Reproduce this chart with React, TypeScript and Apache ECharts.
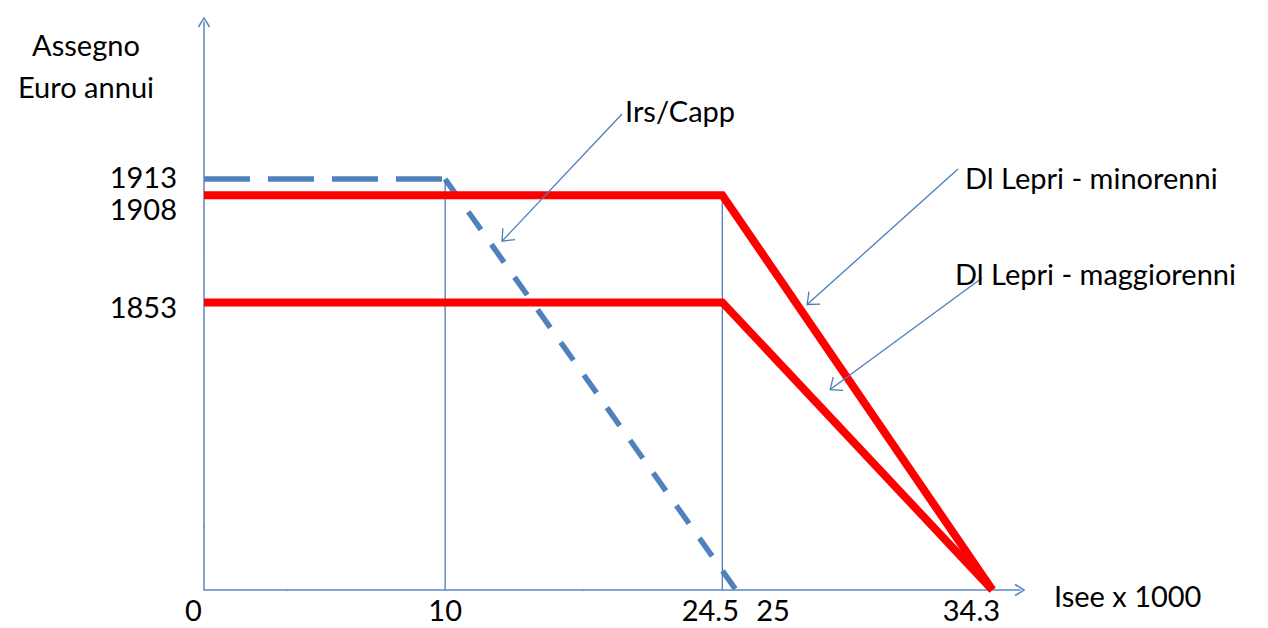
import React, { useEffect, useRef } from "react";
import * as echarts from "echarts";

// ---------------- data ----------------
const xTickValues = [0, 10, 24.5, 25, 34.3];
const yTickValues = [1853, 1908, 1913];

const irsCappFlat = [
  [0, 1913],
  [10, 1913],
];
const irsCappFall = [
  [10, 1913],
  [25, 0],
];
const lepriMinorenni = [
  [0, 1908],
  [24.5, 1908],
  [34.3, 0],
];
const lepriMaggiorenni = [
  [0, 1853],
  [24.5, 1853],
  [34.3, 0],
];
const guideAt10 = [
  [10, 0],
  [10, 1913],
];
const guideAt245 = [
  [24.5, 0],
  [24.5, 1908],
];

const seriesNames = ["Irs/Capp", "Dl Lepri - minorenni", "Dl Lepri - maggiorenni"];
const yAxisTitle = ["Assegno", "Euro annui"];
const xAxisTitle = "Isee x 1000";

// ---------------- layout / style ----------------
const FONT = "Lato, 'Open Sans', sans-serif";
const FONT_SIZE = 29;
const AXIS_BLUE = "#5a88c2";
const THIN_BLUE = "#4a7ebb";
const DASH_BLUE = "#4f81bd";
const RED = "#ff0000";

const X_EXTENT = [0, 35.3];
const Y_EXTENT = [0, 1962];
// schematic (non-proportional) drawing: compressed stretches of the axes
const X_BREAKS = [
  { start: 3, end: 4.252, gap: 0.001 },
  { start: 15, end: 19.446, gap: 0.001 },
];
const Y_BREAKS = [
  { start: 20, end: 1783.3, gap: 0.01 },
  { start: 1870, end: 1891.56, gap: 0.01 },
];

// hand-placed tick label nudges (px) as in the reference
const xLabelShift = [-10.5, 0, -12, 37, -21];
const yLabelShift = [4.5, 13, -3];

const CHEVRON = "path://M5,0 L10,8 L8.9,8.8 L5,2.2 L1.1,8.8 L0,8 Z";

const annotations = [
  { label: seriesNames[0], textAt: [625, 110], from: [622, 114], seg: irsCappFall, segIndex: 0, t: 0.151, nudge: [13, 0] },
  { label: seriesNames[1], textAt: [965, 177], from: [958, 169], seg: lepriMinorenni, segIndex: 1, t: 0.277, nudge: [10, 0] },
  { label: seriesNames[2], textAt: [955, 273], from: [982, 278], seg: lepriMaggiorenni, segIndex: 1, t: 0.303, nudge: [26, 0] },
];

const findIdx = (arr: number[], v: number) => arr.findIndex((a) => Math.abs(a - v) < 1e-6);

const xRich: Record<string, any> = {};
xLabelShift.forEach((d, i) => {
  xRich["x" + i] = {
    fontFamily: FONT,
    fontSize: FONT_SIZE,
    lineHeight: 24,
    color: "#000",
    padding: d >= 0 ? [0, 0, 0, 2 * d] : [0, -2 * d, 0, 0],
  };
});
const yRich: Record<string, any> = {};
yLabelShift.forEach((d, i) => {
  yRich["y" + i] = {
    fontFamily: FONT,
    fontSize: FONT_SIZE,
    color: "#000",
    padding: d >= 0 ? [2 * d, 0, 0, 0] : [0, 0, -2 * d, 0],
  };
});

function lineSeries(name: string, data: number[][], color: string, width: number, type: any, z: number) {
  return {
    type: "line",
    name,
    data,
    symbol: "none",
    showSymbol: false,
    silent: true,
    z,
    lineStyle: { color, width, type, cap: "butt", join: "miter" },
    emphasis: { disabled: true },
  };
}

const option: any = {
  animation: false,
  backgroundColor: "#ffffff",
  grid: {
    left: 204,
    right: 248,
    top: 22,
    bottom: 38,
    containLabel: false,
    outerBoundsMode: "none",
  },
  xAxis: {
    type: "value",
    min: X_EXTENT[0],
    max: X_EXTENT[1],
    breaks: X_BREAKS,
    breakArea: { show: false },
    axisLine: {
      show: true,
      onZero: false,
      symbol: ["none", CHEVRON],
      symbolSize: [14, 11],
      lineStyle: { color: AXIS_BLUE, width: 1.5 },
    },
    axisTick: { show: false },
    splitLine: { show: false },
    axisLabel: {
      customValues: xTickValues,
      hideOverlap: false,
      margin: 7,
      fontFamily: FONT,
      fontSize: FONT_SIZE,
      lineHeight: 24,
      color: "#000",
      rich: xRich,
      formatter: (v: number) => {
        const i = findIdx(xTickValues, v);
        return i < 0 ? "" : `{x${i}|${v}}`;
      },
    },
  },
  yAxis: {
    type: "value",
    min: Y_EXTENT[0],
    max: Y_EXTENT[1],
    breaks: Y_BREAKS,
    breakArea: { show: false },
    axisLine: {
      show: true,
      onZero: false,
      symbol: ["none", CHEVRON],
      symbolSize: [14, 11],
      lineStyle: { color: AXIS_BLUE, width: 1.5 },
    },
    axisTick: { show: false },
    splitLine: { show: false },
    axisLabel: {
      customValues: yTickValues,
      hideOverlap: false,
      margin: 27,
      fontFamily: FONT,
      fontSize: FONT_SIZE,
      color: "#000",
      rich: yRich,
      formatter: (v: number) => {
        const i = findIdx(yTickValues, v);
        return i < 0 ? "" : `{y${i}|${v}}`;
      },
    },
  },
  series: [
    lineSeries(seriesNames[0], irsCappFlat, DASH_BLUE, 5.5, [46, 18], 2),
    lineSeries(seriesNames[0], irsCappFall, DASH_BLUE, 5.5, [22, 18], 2),
    lineSeries("guide 10", guideAt10, THIN_BLUE, 1.3, "solid", 3),
    lineSeries("guide 24.5", guideAt245, THIN_BLUE, 1.3, "solid", 3),
    lineSeries(seriesNames[1], lepriMinorenni, RED, 8, "solid", 4),
    lineSeries(seriesNames[2], lepriMaggiorenni, RED, 8, "solid", 4),
  ],
};

function textEl(text: string, x: number, y: number, align: string) {
  return {
    type: "text",
    z: 10,
    silent: true,
    style: {
      text,
      x,
      y,
      fontFamily: FONT,
      fontSize: FONT_SIZE,
      fill: "#000",
      align,
      textAlign: align,
      verticalAlign: "middle",
      textVerticalAlign: "middle",
    },
  };
}

export default function App() {
  const ref = useRef<HTMLDivElement | null>(null);

  useEffect(() => {
    const el = ref.current;
    if (!el) return;
    const chart = echarts.init(el, null, { renderer: "svg" });
    chart.setOption(option);

    const toPx = (p: number[]) => chart.convertToPixel({ gridIndex: 0 }, p) as unknown as number[];
    const elements: any[] = [];

    elements.push(textEl(yAxisTitle[0], 86, 44, "center"));
    elements.push(textEl(yAxisTitle[1], 86, 86, "center"));
    elements.push(textEl(xAxisTitle, 1054, 595, "left"));

    annotations.forEach((a) => {
      const p0 = toPx(a.seg[a.segIndex]);
      const p1 = toPx(a.seg[a.segIndex + 1]);
      if (!p0 || !p1) return;
      const tip = [p0[0] + (p1[0] - p0[0]) * a.t + a.nudge[0], p0[1] + (p1[1] - p0[1]) * a.t + a.nudge[1]];
      const dx = a.from[0] - tip[0];
      const dy = a.from[1] - tip[1];
      const len = Math.hypot(dx, dy) || 1;
      const ux = dx / len;
      const uy = dy / len;
      const ang = (40 * Math.PI) / 180;
      const L = 13;
      const rot = (s: number) => [
        tip[0] + L * (ux * Math.cos(s * ang) - uy * Math.sin(s * ang)),
        tip[1] + L * (ux * Math.sin(s * ang) + uy * Math.cos(s * ang)),
      ];
      elements.push({
        type: "line",
        z: 9,
        silent: true,
        shape: { x1: a.from[0], y1: a.from[1], x2: tip[0], y2: tip[1] },
        style: { stroke: THIN_BLUE, lineWidth: 1.3 },
      });
      elements.push({
        type: "polyline",
        z: 9,
        silent: true,
        shape: { points: [rot(1), tip, rot(-1)] },
        style: { stroke: THIN_BLUE, lineWidth: 1.3, fill: "none" },
      });
      elements.push(textEl(a.label, a.textAt[0], a.textAt[1], "left"));
    });

    chart.setOption({ graphic: { elements } });

    return () => {
      chart.dispose();
    };
  }, []);

  return (
    <div
      ref={ref}
      style={{ position: "fixed", left: 0, top: 0, width: 1268, height: 628, background: "#fff" }}
    />
  );
}
